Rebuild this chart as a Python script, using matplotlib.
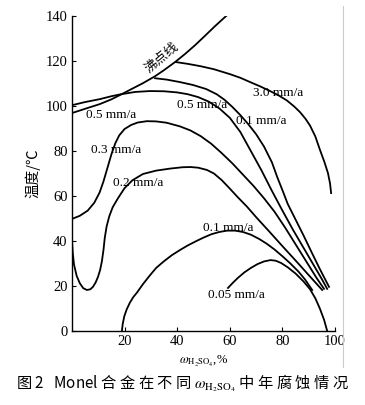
import matplotlib
matplotlib.use("Agg")
import matplotlib.pyplot as plt

plt.rcParams['font.family'] = ['Liberation Serif', 'Noto Sans CJK SC']
plt.rcParams['mathtext.fontset'] = 'stix'

# boiling point line
boil_x = [0, 5, 10.6, 15, 19.4, 23, 27, 31.6, 35, 39.2, 43, 46.8, 50.5, 54.4, 58.9]
boil_y = [96.9, 98.8, 100.9, 103.0, 105.6, 107.8, 110.2, 113.3, 116.0, 119.6, 123.2, 127.1,
          131.2, 135.6, 140.4]

# 3.0 mm/a
c30_x = [39.5, 44, 48.7, 54, 60.1, 64, 67.7, 71.5, 75.3, 78.5, 81.7, 84.5, 86.7, 88.8,
         90.5, 92.5, 94.3, 95.9, 97.3, 98.1, 98.5]
c30_y = [119.6, 118.8, 117.8, 116.4, 114.2, 112.6, 110.7, 108.8, 106.7, 104.8, 102.5, 99.8,
         97.3, 94.3, 91.3, 86.5, 80.4, 75.3, 70.2, 65.5, 61.3]

# curve leaving the boiling line (0.1 mm/a, upper)
c01u_x = [31.6, 36, 41, 46, 51, 55, 58, 61, 64, 67, 70, 73, 76, 78, 80.2, 82, 85, 88, 91,
          94, 97.7]
c01u_y = [112.4, 111.8, 110.7, 109.4, 107.6, 105.3, 102.8, 99.6, 96.0, 92.0, 87.5, 82.0,
          75.0, 68.5, 62.0, 56.5, 49.5, 42.5, 35.2, 28.0, 19.6]

# 0.5 mm/a
c05_x = [0, 5, 10.6, 15, 18.3, 24, 29.7, 35, 40, 44, 48, 52, 56, 60, 64, 68, 72, 76, 80,
         84, 88, 92, 95, 97]
c05_y = [100.4, 101.8, 103.1, 104.4, 105.2, 106.3, 106.7, 106.6, 106.1, 105.3, 104.0, 102.0,
         99.0, 94.8, 88.5, 80.0, 71.5, 62.3, 53.5, 45.0, 37.0, 29.0, 23.0, 18.7]

# 0.3 mm/a
c03_x = [0, 3, 6, 8.5, 10.5, 12, 13.5, 15, 16.5, 18, 20, 22.5, 25, 28.5, 32, 36, 41, 45,
         49, 53, 57, 61, 65, 69, 73, 77, 81, 85, 89, 93, 95.8]
c03_y = [49.8, 51.2, 53.5, 57.0, 61.5, 66.5, 72.5, 78.5, 83.5, 87.0, 89.8, 91.6, 92.7, 93.3,
         93.2, 92.6, 91.0, 89.2, 86.6, 83.2, 79.0, 74.5, 69.5, 64.5, 59.0, 53.0, 46.0, 38.5,
         31.0, 23.5, 18.7]

# 0.2 mm/a
c02_x = [0, 0.3, 0.8, 1.8, 3, 4.3, 5.7, 7, 8, 9, 9.9, 10.7, 11.4, 12, 12.5, 13.2, 14.2,
         15.5, 17.5, 20, 23, 27, 32, 37.3, 42, 45, 48, 51.3, 54, 57, 60, 63, 66.5, 70, 75,
         80, 85, 90, 95.1]
c02_y = [41.0, 35.0, 29.5, 24.5, 21.2, 19.0, 18.2, 18.5, 19.6, 21.5, 24.0, 27.0, 31.0, 36.0,
         41.5, 46.5, 51.0, 55.0, 59.0, 63.5, 67.0, 69.8, 71.3, 72.2, 72.8, 72.9, 72.6, 71.6,
         70.0, 67.0, 63.3, 59.5, 55.3, 50.6, 44.2, 37.7, 31.3, 24.8, 18.2]

# 0.1 mm/a, lower
c01l_x = [19, 19.3, 19.9, 20.8, 22, 23.3, 24.7, 27, 29.5, 32, 35, 38, 41.1, 44, 47, 50, 53,
          56, 59, 62, 65, 68, 71, 74, 77, 80, 83, 86, 88.5, 91.3]
c01l_y = [0.0, 3.0, 6.5, 9.5, 12.5, 15.0, 17.0, 20.8, 24.5, 28.0, 31.0, 33.7, 36.0, 38.0,
          39.8, 41.5, 43.0, 44.0, 44.6, 44.6, 44.0, 42.8, 41.0, 38.8, 36.2, 33.2, 30.0, 26.5,
          23.0, 18.2]

# 0.05 mm/a
c005_x = [59.3, 61, 63, 65.5, 68, 70.5, 73, 75.5, 77.5, 79.5, 82, 85, 88, 90.5, 92.5, 94.2,
          95.8, 97]
c005_y = [19.1, 21.2, 23.5, 26.0, 28.0, 29.7, 30.9, 31.5, 31.2, 30.2, 28.3, 25.5, 22.0, 18.5,
          14.5, 10.0, 5.0, 0.0]

curves = [(boil_x, boil_y), (c30_x, c30_y), (c01u_x, c01u_y), (c05_x, c05_y),
          (c03_x, c03_y), (c02_x, c02_y), (c01l_x, c01l_y), (c005_x, c005_y)]

labels = ["0.5 mm/a", "0.5 mm/a", "0.1 mm/a", "3.0 mm/a", "0.3 mm/a",
          "0.2 mm/a", "0.1 mm/a", "0.05 mm/a"]
label_x = [14.8, 49.4, 71.9, 78.3, 16.7, 25.0, 59.3, 62.7]
label_y = [96.0, 100.4, 93.3, 105.8, 80.4, 65.8, 45.8, 16.0]

fig = plt.figure(figsize=(3.65, 4.05), dpi=100)
ax = fig.add_axes([0.197, 0.183, 0.721, 0.777])

for cx, cy in curves:
    ax.plot(cx, cy, color='black', lw=1.3, solid_joinstyle='round')

for t, lx, ly in zip(labels, label_x, label_y):
    ax.text(lx, ly, t, fontsize=9.5, ha='center', va='center')

ax.text(34.2, 121.5, "沸点线", fontsize=9.5, rotation=40, ha='center', va='center',
        family=['Noto Sans CJK SC', 'DejaVu Sans'])

ax.set_xlim(0, 100)
ax.set_ylim(0, 140)
ax.set_xticks([20, 40, 60, 80, 100])
ax.set_yticks([0, 20, 40, 60, 80, 100, 120, 140])
ax.tick_params(direction='in', length=3, width=0.8, labelsize=10.5, pad=3)
for s in ['top', 'right']:
    ax.spines[s].set_visible(False)
for s in ['left', 'bottom']:
    ax.spines[s].set_linewidth(1.0)

ax.set_xlabel(r"$\omega_{\mathrm{H_2SO_4}}$,%", fontsize=9, labelpad=4)
ax.set_ylabel("温度/℃", fontsize=10.5, labelpad=4,
              family=['Noto Sans CJK SC', 'DejaVu Sans'])

# scanner border on the right
fig.add_artist(plt.Line2D([0.94, 0.94], [0.095, 0.985], color='#cccccc', lw=0.8))

fig.text(0.5, 0.054, r"图 2   Monel 合 金 在 不 同 $\omega_{\mathrm{H_2SO_4}}$ 中 年 腐 蚀 情 况",
         fontsize=11, ha='center', va='center',
         family=['Noto Sans CJK SC', 'Liberation Serif'])

fig.savefig("out.png", dpi=100)
